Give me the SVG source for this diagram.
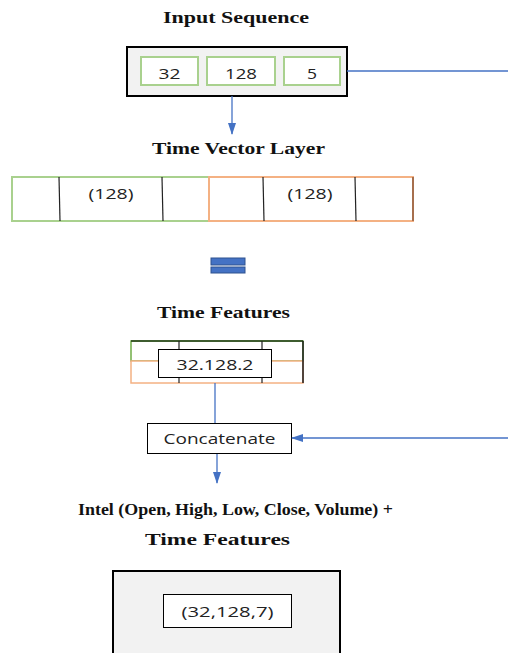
<svg xmlns="http://www.w3.org/2000/svg" width="508" height="653" viewBox="0 0 508 653">
  <style>
    .title { font-family: "Liberation Serif", "Times New Roman", serif; font-weight: bold; font-size: 16px; fill: #111; }
    .label { font-family: "Open Sans", "Liberation Sans", sans-serif; font-size: 15px; fill: #222; }
    .panel { fill: #f2f2f2; stroke: #000; stroke-width: 2; }
    .cell { fill: #fff; stroke: #a9d18e; stroke-width: 2; }
    .plain { fill: #fff; stroke: #000; stroke-width: 1; }
    .div { stroke: #222; stroke-width: 1.2; }
    .link { fill: none; stroke: #4472c4; stroke-width: 1.3; }
  </style>
  <defs>
    <marker id="arrow" viewBox="0 0 12 8" refX="11" refY="4" markerWidth="12" markerHeight="8" markerUnits="userSpaceOnUse" orient="auto">
      <path d="M0,0 L12,4 L0,8 Z" fill="#4472c4"/>
    </marker>
  </defs>
  <rect width="508" height="653" fill="#fff"/>

  <!-- Input sequence -->
  <g id="input-sequence">
    <text class="title" x="236" y="23" text-anchor="middle" textLength="146" lengthAdjust="spacingAndGlyphs">Input Sequence</text>
    <rect class="panel" x="127" y="47" width="220" height="49"/>
    <rect class="cell" x="141" y="57" width="57" height="28"/>
    <rect class="cell" x="207" y="57" width="68" height="28"/>
    <rect class="cell" x="284" y="57" width="56" height="28"/>
    <text class="label" x="169.5" y="79" text-anchor="middle" textLength="22" lengthAdjust="spacingAndGlyphs">32</text>
    <text class="label" x="241" y="79" text-anchor="middle" textLength="32" lengthAdjust="spacingAndGlyphs">128</text>
    <text class="label" x="312" y="79" text-anchor="middle" textLength="10" lengthAdjust="spacingAndGlyphs">5</text>
  </g>

  <!-- Time vector layer -->
  <g id="time-vector-layer">
    <text class="title" x="238.5" y="154" text-anchor="middle" textLength="173" lengthAdjust="spacingAndGlyphs">Time Vector Layer</text>
    <rect x="12" y="177" width="197" height="44" fill="#fff" stroke="#a9d18e" stroke-width="2"/>
    <rect x="209" y="177" width="204" height="44" fill="#fff" stroke="#f4b183" stroke-width="2"/>
    <line x1="413" y1="177" x2="413" y2="221" stroke="#8c5a3c" stroke-width="1.5"/>
    <line class="div" x1="59" y1="177" x2="60" y2="221"/>
    <line class="div" x1="162" y1="177" x2="163" y2="221"/>
    <line class="div" x1="263" y1="177" x2="264" y2="221"/>
    <line class="div" x1="355" y1="177" x2="356" y2="221"/>
    <text class="label" x="111" y="199" text-anchor="middle" textLength="45" lengthAdjust="spacingAndGlyphs">(128)</text>
    <text class="label" x="310" y="199" text-anchor="middle" textLength="45" lengthAdjust="spacingAndGlyphs">(128)</text>
  </g>

  <!-- Equals sign -->
  <g id="equals">
    <rect x="211" y="258" width="34" height="7" fill="#4472c4" stroke="#2f528f" stroke-width="1"/>
    <rect x="211" y="267" width="34" height="6" fill="#4472c4" stroke="#2f528f" stroke-width="1"/>
  </g>

  <!-- Time features -->
  <g id="time-features">
    <text class="title" x="223.5" y="318" text-anchor="middle" textLength="133" lengthAdjust="spacingAndGlyphs">Time Features</text>
    <rect x="131" y="341" width="172" height="20" fill="#fff" stroke="#70ad47" stroke-width="1.5"/>
    <rect x="131" y="361" width="172" height="22" fill="#fff" stroke="#f4b183" stroke-width="1.5"/>
    <line x1="131" y1="341" x2="303" y2="341" stroke="#223a18" stroke-width="1.5"/>
    <line x1="303" y1="341" x2="303" y2="383" stroke="#1a1a1a" stroke-width="1.5"/>
    <line class="div" x1="179" y1="341" x2="179" y2="383"/>
    <line class="div" x1="262" y1="341" x2="262" y2="383"/>
    <rect class="plain" x="158.5" y="349.5" width="113" height="28"/>
    <text class="label" x="215" y="370" text-anchor="middle" textLength="77" lengthAdjust="spacingAndGlyphs">32.128.2</text>
  </g>

  <!-- Concatenate -->
  <g id="concatenate">
    <rect class="plain" x="147.5" y="423.5" width="144" height="30"/>
    <text class="label" x="219.5" y="444" text-anchor="middle" textLength="112" lengthAdjust="spacingAndGlyphs">Concatenate</text>
  </g>

  <!-- Combined output -->
  <g id="combined-output">
    <text class="title" x="235.5" y="515" text-anchor="middle" textLength="315" lengthAdjust="spacingAndGlyphs">Intel (Open, High, Low, Close, Volume) +</text>
    <text class="title" x="217.5" y="545" text-anchor="middle" textLength="145" lengthAdjust="spacingAndGlyphs">Time Features</text>
    <rect class="panel" x="113" y="571" width="227" height="90"/>
    <rect class="plain" x="163.5" y="594.5" width="128" height="33"/>
    <text class="label" x="227.5" y="617" text-anchor="middle" textLength="92" lengthAdjust="spacingAndGlyphs">(32,128,7)</text>
  </g>

  <!-- Connectors -->
  <g id="connectors">
    <line class="link" x1="232" y1="96" x2="232" y2="134" marker-end="url(#arrow)"/>
    <line class="link" x1="347" y1="71" x2="508" y2="71"/>
    <line class="link" x1="215" y1="383" x2="215" y2="423"/>
    <line class="link" x1="508" y1="438" x2="292" y2="438" marker-end="url(#arrow)"/>
    <line class="link" x1="217" y1="454" x2="217" y2="483" marker-end="url(#arrow)"/>
  </g>
</svg>
